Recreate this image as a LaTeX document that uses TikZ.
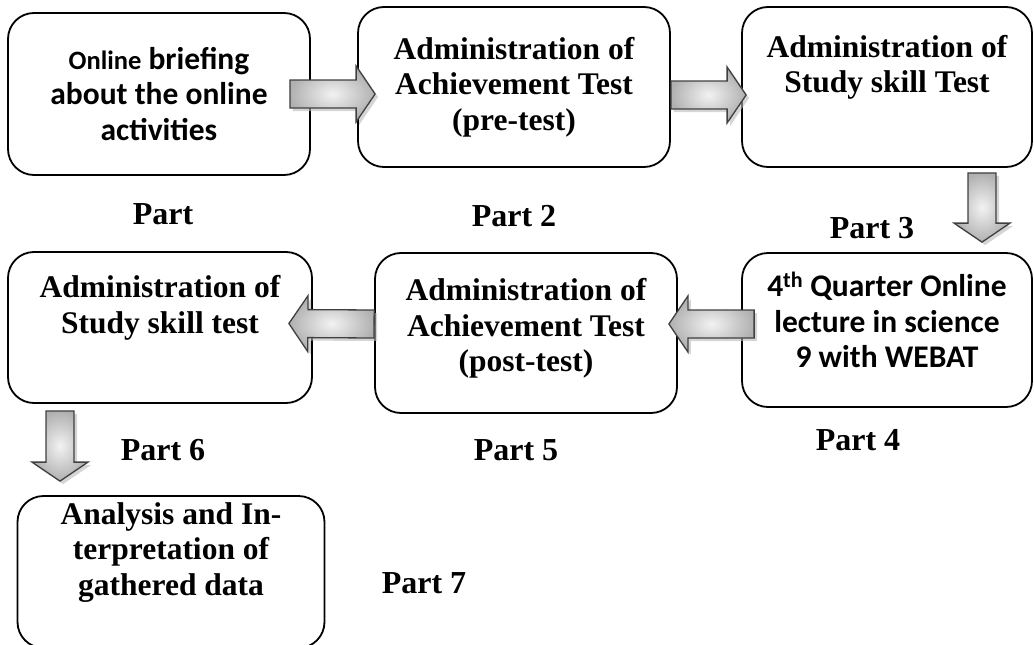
\documentclass[tikz,border=0pt]{standalone}
\usepackage{fontspec}
\setmainfont{Liberation Serif}
\newfontfamily\calibri{Carlito}
\usetikzlibrary{calc,shadows}

\tikzset{
  stage/.style={draw, line width=1.8pt, rounded corners=26pt, inner sep=0pt, align=center,
    font=\fontsize{31.5}{35.5}\selectfont\bfseries},
  cstage/.style={stage, font=\calibri\fontsize{31.5}{35.5}\selectfont\bfseries},
  partlbl/.style={font=\fontsize{32}{34}\selectfont\bfseries, inner sep=0pt},
  fatarrow/.style={draw=gray!50!black, line width=1.3pt, shading=radial,
    inner color=gray!10, outer color=gray!62,
    drop shadow={shadow xshift=3pt, shadow yshift=-3pt, fill=gray!55, opacity=.6},
    to path={let \p1=(\tikztostart), \p2=(\tikztotarget),
      \n1={atan2(\y2-\y1,\x2-\x1)}, \n2={veclen(\x2-\x1,\y2-\y1)}, \n3={veclen(\x2-\x1,\y2-\y1)-19} in
      ([shift={(\p1)},rotate=\n1]0pt,14pt) -- ([shift={(\p1)},rotate=\n1]\n3,14pt)
      -- ([shift={(\p1)},rotate=\n1]\n3,28pt) -- ([shift={(\p1)},rotate=\n1]\n2,0pt)
      -- ([shift={(\p1)},rotate=\n1]\n3,-28pt) -- ([shift={(\p1)},rotate=\n1]\n3,-14pt)
      -- ([shift={(\p1)},rotate=\n1]0pt,-14pt) -- cycle}}
}

\begin{document}
\begin{tikzpicture}[x=1pt,y=-1pt]
\useasboundingbox (0,0) rectangle (1034,645);

% first row
\node[cstage, minimum width=302pt, minimum height=162pt] (b1) at (159,94)
  {{\fontsize{26.5}{35.5}\selectfont Online} briefing\\about the online\\activities};
\node[stage, minimum width=312pt, minimum height=160pt] (b2) at (514,87)
  {Administration of\\Achievement Test\\(pre-test)};
\node[stage, minimum width=290pt, minimum height=160pt] (b3) at (887,87)
  {Administration of\\Study skill Test\\ \strut};

% second row
\node[cstage, minimum width=290pt, minimum height=154pt] (b4) at (887,330)
  {4\textsuperscript{th} Quarter Online\\lecture in science\\9 with WEBAT\\[-26pt]\strut};
\node[stage, minimum width=302pt, minimum height=160pt] (b5) at (526,333)
  {Administration of\\Achievement Test\\(post-test)\\[-30pt]\strut};
\node[stage, minimum width=304pt, minimum height=151pt] (b6) at (160,327.5)
  {Administration of\\Study skill test\\ \strut};

% last box
\node[stage, minimum width=307pt, minimum height=152pt] (b7) at (171,572)
  {Analysis and In-\\terpretation of\\gathered data\\ \strut};

% part labels
\node[partlbl] (p1) at (163,214) {Part};
\node[partlbl] (p2) at (514,216) {Part 2};
\node[partlbl] (p3) at (872,228) {Part 3};
\node[partlbl] (p4) at (858,440) {Part 4};
\node[partlbl] (p5) at (516,450) {Part 5};
\node[partlbl] (p6) at (163,450) {Part 6};
\node[partlbl] (p7) at (424,583) {Part 7};

% block arrows
\draw[fatarrow] ($(b1.east)+(-21,0)$) to ($(b2.west)+(18,7)$);
\draw[fatarrow] ($(b2.east)+(0,8)$) to ($(b3.west)+(5,8)$);
\draw[fatarrow] ($(b3.south)+(95,5)$) to ($(b4.north)+(95,-10)$);
\draw[fatarrow] ($(b4.west)+(13,-6)$) to ($(b5.east)+(-9,-9)$);
\draw[fatarrow] ($(b5.west)+(0,-9)$) to ($(b6.east)+(-24,-4)$);
\draw[fatarrow] ($(b6.south)+(-100,7)$) to ($(b7.north)+(-111,-14)$);
\end{tikzpicture}
\end{document}
